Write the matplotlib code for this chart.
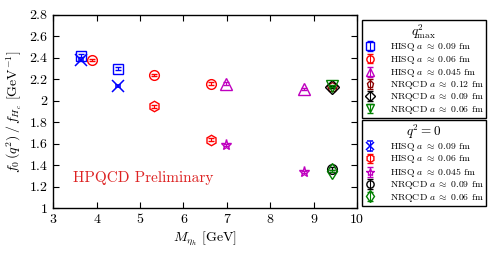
import matplotlib
matplotlib.use("Agg")
import numpy as np
import matplotlib.pyplot as plt
from matplotlib.ticker import FuncFormatter, MultipleLocator

plt.rcParams['font.family'] = 'serif'
plt.rcParams['font.serif'] = ['cmr10']
plt.rcParams['mathtext.fontset'] = 'cm'
plt.rcParams['axes.formatter.use_mathtext'] = True

# q^2_max data
hisq09_max_x = [3.64, 4.49]
hisq09_max_y = [2.42, 2.30]
hisq06_max_x = [3.90, 5.31, 6.63]
hisq06_max_y = [2.38, 2.24, 2.16]
hisq045_max_x = [6.97, 8.78]
hisq045_max_y = [2.16, 2.11]
nrqcd12_max_x = [9.42]
nrqcd12_max_y = [2.13]
nrqcd09_max_x = [9.42]
nrqcd09_max_y = [2.13]
nrqcd06_max_x = [9.42]
nrqcd06_max_y = [2.14]
# q^2 = 0 data
hisq09_0_x = [3.64, 4.49]
hisq09_0_y = [2.38, 2.14]
hisq06_0_x = [5.31, 6.63]
hisq06_0_y = [1.95, 1.64]
hisq045_0_x = [6.97, 8.78]
hisq045_0_y = [1.59, 1.34]
nrqcd09_0_x = [9.42]
nrqcd09_0_y = [1.37]
nrqcd06_0_x = [9.42]
nrqcd06_0_y = [1.35]
err = 0.012

W, H = 498, 257
fig = plt.figure(figsize=(W / 100, H / 100), dpi=100)
ax = fig.add_axes([0.107, 0.189, 0.610, 0.753])

def ep(x, y, fmt, color, ms, label, mew=1.0):
    return ax.errorbar(x, y, yerr=[err]*len(y), fmt=fmt, color=color, mfc='none',
                       mec=color, ms=ms, mew=mew, elinewidth=0.8, capsize=2,
                       capthick=0.8, label=label)

lab = lambda s, a: s + r' $a\;\approx\;' + a + r'$ fm'
h1 = [
    ep(hisq09_max_x, hisq09_max_y, 's', 'blue', 7.5, lab('HISQ', '0.09')),
    ep(hisq06_max_x, hisq06_max_y, 'o', 'red', 7, lab('HISQ', '0.06')),
    ep(hisq045_max_x, hisq045_max_y, '^', 'm', 8, lab('HISQ', '0.045')),
    ep(nrqcd12_max_x, nrqcd12_max_y, 'p', 'darkred', 7, lab('NRQCD', '0.12')),
    ep(nrqcd09_max_x, nrqcd09_max_y, 'D', 'black', 7, lab('NRQCD', '0.09')),
    ep(nrqcd06_max_x, nrqcd06_max_y, 'v', 'green', 8, lab('NRQCD', '0.06')),
]
h2 = [
    ep(hisq09_0_x, hisq09_0_y, 'x', 'blue', 8, lab('HISQ', '0.09'), mew=1.1),
    ep(hisq06_0_x, hisq06_0_y, 'h', 'red', 7.5, lab('HISQ', '0.06')),
    ep(hisq045_0_x, hisq045_0_y, '*', 'm', 8, lab('HISQ', '0.045')),
    ep(nrqcd09_0_x, nrqcd09_0_y, 'o', 'black', 7, lab('NRQCD', '0.09')),
    ep(nrqcd06_0_x, nrqcd06_0_y, 'd', 'green', 8, lab('NRQCD', '0.06')),
]

ax.set_xlim(3, 10)
ax.set_ylim(1, 2.8)
ax.xaxis.set_major_locator(MultipleLocator(1))
ax.yaxis.set_major_locator(MultipleLocator(0.2))
fmt = FuncFormatter(lambda v, p: '%g' % round(v, 3))
ax.xaxis.set_major_formatter(fmt)
ax.yaxis.set_major_formatter(fmt)
ax.tick_params(direction='in', top=True, right=True, labelsize=10, length=4, pad=4)
for s in ax.spines.values():
    s.set_linewidth(1.0)

ax.set_xlabel(r'$M_{\eta_h}$ [GeV]', fontsize=10, labelpad=2)
ax.set_ylabel(r'$f_0\,(q^2)\,/\,f_{H_c}$ [GeV$^{-1}$]', fontsize=10, labelpad=4)
ax.text(3.45, 1.25, 'HPQCD Preliminary', color='#dd2222', fontsize=11)

renderer = fig.canvas.get_renderer()

def make_leg(handles, title, top_px, fs, ls, tfs):
    leg = fig.legend(handles=handles, title=title, loc='upper left',
                     bbox_to_anchor=(362 / W, 1 - top_px / H),
                     fontsize=fs, title_fontsize=tfs,
                     frameon=True, fancybox=False, edgecolor='black', framealpha=1,
                     borderpad=0.25, labelspacing=ls, handlelength=1.1,
                     handleheight=0.5, handletextpad=1.5, borderaxespad=0,
                     markerscale=0.75)
    leg.get_frame().set_linewidth(1.0)
    return leg

def height(handles, title, fs, ls, tfs):
    leg = make_leg(handles, title, 20, fs, ls, tfs)
    h = leg.get_window_extent(renderer).height
    leg.remove()
    return h

targets = [(h1, r'$q^2_{\rm max}$', 20, 98), (h2, r'$q^2=0$', 120, 86)]
tfs = 9.5
fs = 7.3
for cand in np.arange(7.3, 5.5, -0.1):
    ok = all(height(hh, tt, cand, 0.0, tfs) <= tgt for hh, tt, _, tgt in targets)
    fs = cand
    if ok:
        break

for hh, tt, top, tgt in targets:
    lo, hi = 0.0, 1.0
    for _ in range(25):
        mid = 0.5 * (lo + hi)
        if height(hh, tt, fs, mid, tfs) > tgt:
            hi = mid
        else:
            lo = mid
    make_leg(hh, tt, top, fs, lo, tfs)

fig.savefig('out.png', dpi=100)
